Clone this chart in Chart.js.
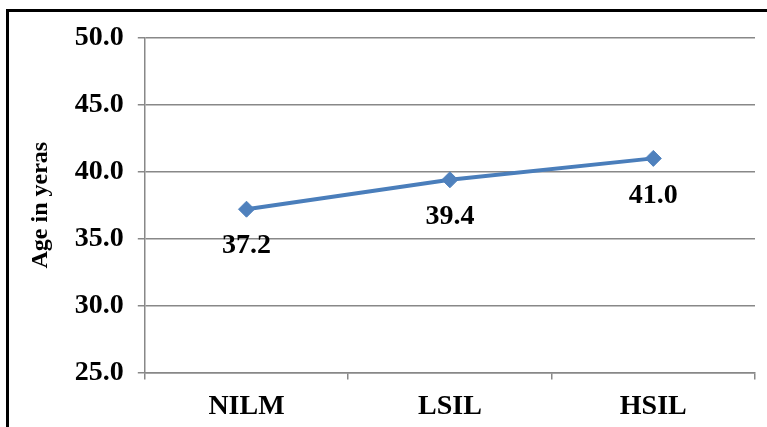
<!DOCTYPE html>
<html>
<head>
<meta charset="utf-8">
<script src="https://cdn.jsdelivr.net/npm/chart.js@4/dist/chart.umd.min.js"></script>
<style>
  html, body { margin: 0; padding: 0; background: #fff; overflow: hidden; }
  #wrap { position: relative; width: 767px; height: 427px; overflow: hidden; }
  #frame { position: absolute; left: 6px; top: 9px; width: 800px; height: 500px; border: 3px solid #000; box-sizing: border-box; }
  #chart { position: absolute; left: 0; top: 0; }
</style>
</head>
<body>
<div id="wrap">
  <div id="frame"></div>
  <canvas id="chart" width="767" height="440"></canvas>
</div>
<script>
// Mean age per cytology group
const categories = ['NILM', 'LSIL', 'HSIL'];
const meanAge = [37.2, 39.4, 41.0];
const yTicks = [25, 30, 35, 40, 45, 50];

const FONT = 'Liberation Serif, Times New Roman, serif';
const GRID = '#888888';

// Writes each point's value beneath its marker
const valueLabels = {
  id: 'valueLabels',
  afterDatasetsDraw(chart) {
    const ctx = chart.ctx;
    const meta = chart.getDatasetMeta(0);
    const data = chart.data.datasets[0].data;
    ctx.save();
    ctx.font = 'bold 28px ' + FONT;
    ctx.fillStyle = '#000';
    ctx.textAlign = 'center';
    ctx.textBaseline = 'middle';
    meta.data.forEach((pt, i) => {
      ctx.fillText(data[i].toFixed(1), pt.x, pt.y + 37);
    });
    ctx.restore();
  }
};

new Chart(document.getElementById('chart'), {
  type: 'line',
  data: {
    labels: categories,
    datasets: [{
      data: meanAge,
      borderColor: '#4A7EBB',
      backgroundColor: '#4F81BD',
      borderWidth: 4,
      pointStyle: 'rectRot',
      pointRadius: 8,
      pointBackgroundColor: '#4F81BD',
      pointBorderColor: '#4F81BD',
      pointBorderWidth: 1,
      tension: 0
    }]
  },
  options: {
    responsive: false,
    animation: false,
    devicePixelRatio: 1,
    layout: { padding: { left: 26, right: 12, top: 38, bottom: 5 } },
    plugins: {
      legend: { display: false },
      tooltip: { enabled: false }
    },
    scales: {
      x: {
        offset: true,
        grid: { offset: true, drawOnChartArea: false, color: GRID, lineWidth: 1.5, tickLength: 7 },
        border: { color: GRID, width: 1.5 },
        ticks: { color: '#000', font: { family: FONT, size: 28, weight: 'bold' }, padding: 11 }
      },
      y: {
        min: yTicks[0],
        max: yTicks[yTicks.length - 1],
        afterBuildTicks(axis) { axis.ticks = yTicks.map(v => ({ value: v })); },
        grid: { color: GRID, lineWidth: 1.5, tickLength: 7 },
        border: { color: GRID, width: 1.5 },
        ticks: {
          color: '#000',
          font: { family: FONT, size: 28, weight: 'bold' },
          padding: 14,
          callback: v => Number(v).toFixed(1)
        },
        title: {
          display: true,
          text: 'Age in yeras',
          color: '#000',
          font: { family: FONT, size: 24, weight: 'bold' },
          padding: { top: 0, bottom: 6 }
        }
      }
    }
  },
  plugins: [valueLabels]
});
</script>
</body>
</html>
